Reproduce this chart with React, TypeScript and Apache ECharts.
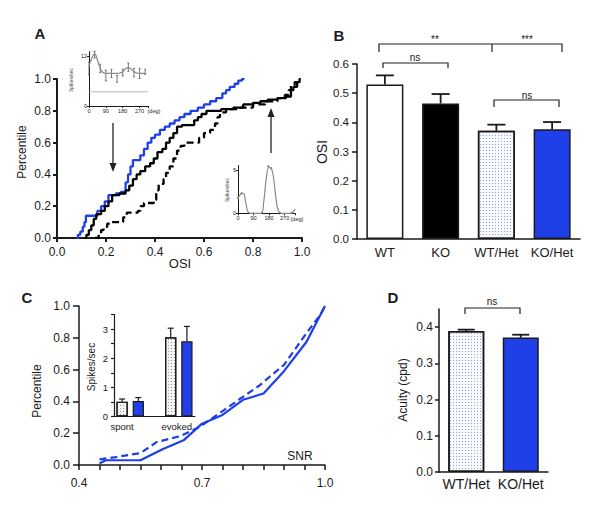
import React, { useEffect, useRef } from "react";
import * as echarts from "echarts";

const FONT = '"Liberation Sans", Arial, Helvetica, sans-serif';
const INK = "#1a1a1a";
const BLUE = "#1f3fe8";

// ---------- Panel A : cumulative distributions of OSI ----------
const aBlue: [number, number][] = [
  [0.08, 0], [0.085, 0.02], [0.095, 0.04], [0.105, 0.07], [0.112, 0.1], [0.118, 0.14],
  [0.165, 0.17], [0.18, 0.2], [0.195, 0.23], [0.21, 0.27], [0.24, 0.28], [0.26, 0.29],
  [0.28, 0.35], [0.29, 0.4], [0.3, 0.45], [0.31, 0.49], [0.34, 0.52], [0.355, 0.56],
  [0.37, 0.6], [0.385, 0.63], [0.4, 0.65], [0.42, 0.68], [0.44, 0.7], [0.46, 0.72],
  [0.48, 0.74], [0.5, 0.76], [0.52, 0.78], [0.545, 0.8], [0.575, 0.82], [0.6, 0.84],
  [0.625, 0.86], [0.65, 0.88], [0.675, 0.91], [0.69, 0.93], [0.705, 0.95], [0.725, 0.97],
  [0.74, 0.99], [0.755, 1.0], [0.765, 1.0],
];
const aBlack: [number, number][] = [
  [0.113, 0], [0.12, 0.02], [0.13, 0.05], [0.14, 0.08], [0.15, 0.12], [0.16, 0.15],
  [0.18, 0.17], [0.195, 0.2], [0.21, 0.23], [0.225, 0.27], [0.255, 0.28], [0.28, 0.3],
  [0.295, 0.33], [0.31, 0.37], [0.325, 0.4], [0.34, 0.42], [0.36, 0.45], [0.38, 0.47],
  [0.395, 0.5], [0.41, 0.54], [0.43, 0.56], [0.445, 0.6], [0.46, 0.63], [0.475, 0.66],
  [0.49, 0.7], [0.51, 0.71], [0.56, 0.74], [0.575, 0.76], [0.59, 0.78], [0.61, 0.8],
  [0.67, 0.81], [0.72, 0.82], [0.76, 0.84], [0.8, 0.85], [0.83, 0.86], [0.86, 0.87],
  [0.9, 0.88], [0.935, 0.89], [0.955, 0.93], [0.965, 0.95], [0.98, 0.98], [0.99, 1.0],
  [0.995, 1.0],
];
const aDashed: [number, number][] = [
  [0.155, 0], [0.17, 0.03], [0.18, 0.05], [0.19, 0.07], [0.205, 0.09], [0.22, 0.1],
  [0.27, 0.13], [0.285, 0.16], [0.33, 0.17], [0.34, 0.2], [0.355, 0.22], [0.395, 0.24],
  [0.405, 0.3], [0.415, 0.34], [0.435, 0.37], [0.445, 0.41], [0.46, 0.45], [0.475, 0.5],
  [0.49, 0.55], [0.505, 0.58], [0.52, 0.6], [0.58, 0.63], [0.6, 0.66], [0.625, 0.68],
  [0.645, 0.72], [0.655, 0.76], [0.665, 0.79], [0.69, 0.81], [0.75, 0.82], [0.8, 0.84],
  [0.85, 0.86], [0.9, 0.88], [0.93, 0.9], [0.945, 0.93], [0.955, 0.96], [0.97, 0.98],
  [0.985, 1.0], [0.99, 1.0],
];

// inset 1 (low OSI cell): tuning curve, spikes/sec vs direction
const in1Angles = [0, 30, 60, 90, 120, 150, 180, 210, 240, 270, 300];
const in1Mean = [9.0, 12.3, 9.0, 7.3, 7.8, 6.5, 8.0, 9.3, 8.0, 7.8, 8.2];
const in1Sd = [1.5, 0.8, 1.0, 1.3, 1.0, 0.8, 0.8, 1.0, 1.0, 1.2, 0.6];
const in1FitAngles = [0, 15, 30, 45, 60, 75, 90, 105, 120, 135, 150, 165, 180, 195, 210, 225, 240, 255, 270, 285, 300];
const in1Fit = [9.5, 11.5, 12.5, 11.0, 9.0, 8.0, 7.8, 7.8, 7.8, 7.8, 7.8, 7.9, 8.2, 8.9, 9.2, 8.8, 8.2, 7.9, 7.8, 7.8, 7.8];
const in1Spont = 3.4;

// inset 2 (high OSI cell)
const in2FitAngles = [0, 15, 30, 45, 60, 75, 90, 105, 120, 135, 150, 165, 180, 195, 210, 225, 240, 255, 270, 285, 300, 315, 330];
const in2Fit = [1.6, 2.2, 2.3, 1.2, 0.1, 0, 0, 0, 0, 0, 1.5, 4.2, 5.3, 5.1, 3.4, 1.0, 0.1, 0, 0, 0, 0, 0.1, 0.5];
const in2PtAngles = [0, 20, 90, 140, 175, 190, 240, 315];
const in2PtVals = [1.8, 2.3, 0, 0.1, 5.4, 5.2, 0, 0.05];

// ---------- Panel B : OSI bars ----------
const bCats = ["WT", "KO", "WT/Het", "KO/Het"];
const bMean = [0.53, 0.465, 0.371, 0.376];
const bErr = [0.031, 0.032, 0.021, 0.025];

// ---------- Panel C : SNR cumulative ----------
const cSolid: [number, number][] = [
  [0.45, 0.01], [0.465, 0.03], [0.55, 0.03], [0.605, 0.1], [0.655, 0.155], [0.7, 0.26],
  [0.75, 0.315], [0.8, 0.41], [0.85, 0.45], [0.9, 0.59], [0.955, 0.775], [1.0, 1.0],
];
const cDashed: [number, number][] = [
  [0.45, 0.035], [0.49, 0.05], [0.55, 0.075], [0.59, 0.145], [0.645, 0.18], [0.695, 0.24],
  [0.745, 0.33], [0.795, 0.42], [0.84, 0.5], [0.9, 0.63], [0.955, 0.83], [0.99, 0.95], [1.0, 1.0],
];
// inset: spikes/sec
const cGroups = ["spont", "evoked"];
const cWtHet = [0.51, 2.72];
const cWtHetErr = [0.09, 0.31];
const cKoHet = [0.53, 2.58];
const cKoHetErr = [0.12, 0.51];

// ---------- Panel D : acuity ----------
const dCats = ["WT/Het", "KO/Het"];
const dMean = [0.389, 0.371];
const dErr = [0.004, 0.008];

const dots = (color: string) => ({
  symbol: "rect",
  symbolSize: 1,
  dashArrayX: [1, 2],
  dashArrayY: [1, 2],
  color,
});

const errBar =
  (cap: number, lw: number, color: string, both = false) =>
  (_p: any, api: any) => {
    const x = api.value(0);
    const lo = api.coord([x, api.value(1)]);
    const hi = api.coord([x, api.value(2)]);
    const style = { stroke: color, lineWidth: lw };
    const children: any[] = [
      { type: "line", shape: { x1: lo[0], y1: lo[1], x2: hi[0], y2: hi[1] }, style },
      { type: "line", shape: { x1: hi[0] - cap, y1: hi[1], x2: hi[0] + cap, y2: hi[1] }, style },
    ];
    if (both)
      children.push({ type: "line", shape: { x1: lo[0] - cap, y1: lo[1], x2: lo[0] + cap, y2: lo[1] }, style });
    return { type: "group", children };
  };

const oneDec = (v: number) =>
  Math.abs(v * 10 - Math.round(v * 10)) > 1e-6 ? "" : v.toFixed(1);

const line = (w: number) => ({ lineStyle: { color: INK, width: w } });

function valueAxis(grid: number, min: number, max: number, o: any = {}) {
  return {
    type: "value",
    gridIndex: grid,
    min,
    max,
    interval: o.interval,
    axisLine: { show: true, onZero: false, ...line(o.lw ?? 1.5) },
    axisTick: {
      show: true,
      length: o.tick ?? 4,
      ...line(o.lw ?? 1.5),
      customValues: o.ticks,
    },
    axisLabel: {
      fontFamily: FONT,
      fontSize: o.fs ?? 12,
      color: INK,
      margin: o.margin ?? 6,
      formatter: o.fmt ?? oneDec,
      customValues: o.labels,
    },
    splitLine: { show: false },
  };
}

function catAxis(grid: number, data: string[], o: any = {}) {
  return {
    type: "category",
    gridIndex: grid,
    data,
    axisLine: { show: true, ...line(o.lw ?? 1.5) },
    axisTick: { show: false },
    axisLabel: {
      fontFamily: FONT,
      fontSize: o.fs ?? 13,
      color: INK,
      margin: o.margin ?? 7,
      interval: 0,
      formatter: o.fmt,
      rich: o.rich,
    },
    splitLine: { show: false },
  };
}

const txt = (x: number, y: number, text: string, fs: number, o: any = {}) => ({
  type: "text",
  x,
  y,
  rotation: o.rot ?? 0,
  z: 100,
  style: {
    text,
    fill: o.color ?? INK,
    fontSize: fs,
    fontWeight: o.bold ? "bold" : "normal",
    fontFamily: FONT,
    align: o.align ?? "center",
    verticalAlign: "middle",
  },
});

const pl = (pts: number[][], w = 1.2) => ({
  type: "polyline",
  z: 100,
  shape: { points: pts },
  style: { stroke: "#222", lineWidth: w, fill: "none" },
});

export default function App() {
  const ref = useRef<HTMLDivElement>(null);

  useEffect(() => {
    if (!ref.current) return;
    const chart = echarts.init(ref.current, undefined, { renderer: "svg" });
    const gridBase = { containLabel: false, outerBoundsMode: "none", show: false };

    const cSlots = [cGroups[0], "s2", "gap", cGroups[1], "e2"];
    const grayBar = {
      color: "#f4f4f4",
      borderColor: INK,
      borderWidth: 1.2,
      decal: dots("#9a9a9a"),
    };
    const blueBar = { color: BLUE, borderColor: INK, borderWidth: 1.2 };
    const degFmt = (v: number) => ([0, 90, 180, 270].includes(v) ? String(v) : "");

    const option: any = {
      animation: false,
      backgroundColor: "#ffffff",
      grid: [
        { ...gridBase, left: 57, top: 79, width: 245, height: 159 },
        { ...gridBase, left: 89, top: 51.7, width: 59, height: 54.3 },
        { ...gridBase, left: 238, top: 165.5, width: 57, height: 47.8 },
        { ...gridBase, left: 357, top: 64, width: 223, height: 175 },
        { ...gridBase, left: 79, top: 306, width: 246, height: 159 },
        { ...gridBase, left: 114, top: 314.5, width: 81, height: 102 },
        { ...gridBase, left: 439, top: 309, width: 109, height: 163 },
      ],
      xAxis: [
        valueAxis(0, 0, 1, { interval: 0.2, lw: 2, margin: 8 }),
        valueAxis(1, 0, 315, { interval: 90, lw: 1, tick: 2, fs: 5.5, margin: 2, fmt: degFmt }),
        valueAxis(2, 0, 330, { interval: 90, lw: 1, tick: 2, fs: 5.5, margin: 2, fmt: degFmt }),
        catAxis(3, bCats, { fs: 13, margin: 7 }),
        valueAxis(4, 0.4, 1.0, {
          interval: 0.05, lw: 1.5, tick: 5, margin: 12,
          fmt: (v: number) => {
            const r = Math.round(v * 100);
            return r === 40 || r === 70 || r === 100 ? v.toFixed(1) : "";
          },
        }),
        catAxis(5, cSlots, {
          fs: 9.5, margin: 5, lw: 1.2,
          fmt: (v: string) => (v === "spont" ? "spont" : v === "evoked" ? "{e|evoked}" : ""),
          rich: { e: { fontFamily: FONT, fontSize: 9.5, color: INK, padding: [0, 0, 0, 12] } },
        }),
        catAxis(6, dCats, { fs: 14, margin: 5 }),
      ],
      yAxis: [
        valueAxis(0, 0, 1, { interval: 0.2, lw: 2, margin: 6 }),
        valueAxis(1, 0, 13, {
          lw: 1, tick: 2, fs: 5.5, margin: 2, ticks: [0, 12], labels: [0, 12],
          fmt: (v: number) => (v === 0 || v === 12 ? String(v) : ""),
        }),
        valueAxis(2, 0, 5.5, {
          lw: 1, tick: 2, fs: 5.5, margin: 2, ticks: [0, 5], labels: [0, 5],
          fmt: (v: number) => (v === 0 || v === 5 ? String(v) : ""),
        }),
        valueAxis(3, 0, 0.6, { interval: 0.1, lw: 1.5, tick: 5, fs: 11.5, margin: 8 }),
        valueAxis(4, 0, 1, { interval: 0.2, lw: 1.5, tick: 6, margin: 9 }),
        valueAxis(5, 0, 3.5, {
          interval: 0.5, lw: 1.2, tick: 3, fs: 9.5, margin: 6,
          fmt: (v: number) => (Math.abs(v - Math.round(v)) < 1e-6 ? String(Math.round(v)) : ""),
        }),
        valueAxis(6, 0, 0.45, {
          lw: 1.5, tick: 4, margin: 6,
          ticks: [0, 0.1, 0.2, 0.3, 0.4], labels: [0, 0.1, 0.2, 0.3, 0.4],
        }),
      ],
      series: [
        // Panel A main
        {
          type: "line", xAxisIndex: 0, yAxisIndex: 0, data: aBlue, step: "end",
          showSymbol: false, lineStyle: { color: BLUE, width: 2.3 }, z: 3,
        },
        {
          type: "line", xAxisIndex: 0, yAxisIndex: 0, data: aDashed, step: "end",
          showSymbol: false, lineStyle: { color: "#000", width: 2.3, type: [7, 4] }, z: 3,
        },
        {
          type: "line", xAxisIndex: 0, yAxisIndex: 0, data: aBlack, step: "end",
          showSymbol: false, lineStyle: { color: "#000", width: 2.3 }, z: 4,
        },
        // inset 1
        {
          type: "line", xAxisIndex: 1, yAxisIndex: 1,
          data: [[0, in1Spont], [315, in1Spont]],
          showSymbol: false, lineStyle: { color: "#aaa", width: 0.8 },
        },
        {
          type: "line", xAxisIndex: 1, yAxisIndex: 1, smooth: true,
          data: in1FitAngles.map((a, i) => [a, in1Fit[i]]),
          showSymbol: false, lineStyle: { color: "#8a8a8a", width: 1.2 },
        },
        {
          type: "custom", xAxisIndex: 1, yAxisIndex: 1,
          renderItem: errBar(1, 0.8, "#555", true),
          encode: { x: 0, y: [1, 2] },
          data: in1Angles.map((a, i) => [a, in1Mean[i] - in1Sd[i], in1Mean[i] + in1Sd[i]]),
        },
        // inset 2
        {
          type: "line", xAxisIndex: 2, yAxisIndex: 2, smooth: true,
          data: in2FitAngles.map((a, i) => [a, in2Fit[i]]),
          showSymbol: false, lineStyle: { color: "#8a8a8a", width: 1.2 },
        },
        {
          type: "scatter", xAxisIndex: 2, yAxisIndex: 2, symbolSize: 2,
          itemStyle: { color: "#555" },
          data: in2PtAngles.map((a, i) => [a, in2PtVals[i]]),
        },
        // Panel B
        {
          type: "bar", xAxisIndex: 3, yAxisIndex: 3, barWidth: 37,
          data: bMean.map((v, i) => ({
            value: v,
            itemStyle:
              i === 0
                ? { color: "#ffffff", borderColor: INK, borderWidth: 1.5 }
                : i === 1
                ? { color: "#000000", borderColor: INK, borderWidth: 1.5 }
                : i === 2
                ? { color: "#f8f9fd", borderColor: INK, borderWidth: 1.5, decal: dots("#93a2d6") }
                : { color: BLUE, borderColor: INK, borderWidth: 1.5 },
          })),
        },
        {
          type: "custom", xAxisIndex: 3, yAxisIndex: 3, z: 5,
          renderItem: errBar(9, 1.8, INK),
          encode: { x: 0, y: [1, 2] },
          data: bMean.map((v, i) => [i, v, v + bErr[i]]),
        },
        // Panel C main
        {
          type: "line", xAxisIndex: 4, yAxisIndex: 4, data: cDashed,
          showSymbol: false, lineStyle: { color: BLUE, width: 2.2, type: [7, 4] },
        },
        {
          type: "line", xAxisIndex: 4, yAxisIndex: 4, data: cSolid,
          showSymbol: false, lineStyle: { color: BLUE, width: 2.2 },
        },
        // Panel C inset
        {
          type: "bar", xAxisIndex: 5, yAxisIndex: 5, barWidth: 11.3,
          data: [
            { value: cWtHet[0], itemStyle: grayBar },
            { value: cKoHet[0], itemStyle: blueBar },
            { value: 0, itemStyle: { color: "#000", borderColor: INK, borderWidth: 1.2 } },
            { value: cWtHet[1], itemStyle: grayBar },
            { value: cKoHet[1], itemStyle: blueBar },
          ],
        },
        {
          type: "custom", xAxisIndex: 5, yAxisIndex: 5, z: 5,
          renderItem: errBar(3, 1.2, INK),
          encode: { x: 0, y: [1, 2] },
          data: [
            [0, cWtHet[0], cWtHet[0] + cWtHetErr[0]],
            [1, cKoHet[0], cKoHet[0] + cKoHetErr[0]],
            [3, cWtHet[1], cWtHet[1] + cWtHetErr[1]],
            [4, cKoHet[1], cKoHet[1] + cKoHetErr[1]],
          ],
        },
        // Panel D
        {
          type: "bar", xAxisIndex: 6, yAxisIndex: 6, barWidth: 36,
          data: dMean.map((v, i) => ({
            value: v,
            itemStyle:
              i === 0
                ? { color: "#f8f9fd", borderColor: INK, borderWidth: 1.5, decal: dots("#93a2d6") }
                : { color: BLUE, borderColor: INK, borderWidth: 1.5 },
          })),
        },
        {
          type: "custom", xAxisIndex: 6, yAxisIndex: 6, z: 5,
          renderItem: errBar(8.5, 1.8, INK),
          encode: { x: 0, y: [1, 2] },
          data: dMean.map((v, i) => [i, v, v + dErr[i]]),
        },
      ],
      graphic: [
        // panel letters
        txt(40, 33, "A", 15, { bold: true }),
        txt(339, 35, "B", 15, { bold: true }),
        txt(27, 297, "C", 15, { bold: true }),
        txt(393, 297, "D", 15, { bold: true }),
        // axis titles
        txt(22, 152, "Percentile", 12, { rot: Math.PI / 2 }),
        txt(180, 263, "OSI", 13),
        txt(322, 152, "OSI", 14, { rot: Math.PI / 2 }),
        txt(37, 391, "Percentile", 12, { rot: Math.PI / 2 }),
        txt(300, 456, "SNR", 12),
        txt(91, 367, "Spikes/sec", 10, { rot: Math.PI / 2 }),
        txt(403, 390, "Acuity (cpd)", 12, { rot: Math.PI / 2 }),
        txt(71, 80, "Spikes/sec", 5, { rot: Math.PI / 2, color: "#444" }),
        txt(227, 190, "Spikes/sec", 5, { rot: Math.PI / 2, color: "#444" }),
        txt(147.5, 111, "(deg)", 5.5, { align: "left" }),
        txt(290.5, 218.5, "(deg)", 5.5, { align: "left" }),
        // arrows in A
        pl([[113, 123], [113, 165]], 1.3),
        { type: "polygon", z: 100, shape: { points: [[109.5, 163], [116.5, 163], [113, 172]] }, style: { fill: "#222" } },
        pl([[271, 153], [271, 115]], 1.3),
        { type: "polygon", z: 100, shape: { points: [[267.5, 117], [274.5, 117], [271, 108]] }, style: { fill: "#222" } },
        // significance brackets B
        pl([[379, 52], [379, 44], [562, 44], [562, 52]]),
        pl([[492, 44], [492, 52]]),
        txt(435, 39, "**", 10, { color: "#222" }),
        txt(527, 39, "***", 10, { color: "#222" }),
        pl([[383, 68], [383, 63], [448, 63], [448, 68]]),
        txt(415, 57, "ns", 10),
        pl([[494, 107], [494, 100], [559, 100], [559, 107]]),
        txt(527, 95, "ns", 10),
        // bracket D
        pl([[465, 314], [465, 308], [520, 308], [520, 314]]),
        txt(492, 301, "ns", 10),
      ],
    };
    chart.setOption(option);
    return () => chart.dispose();
  }, []);

  return (
    <div
      ref={ref}
      style={{ position: "fixed", left: 0, top: 0, width: 600, height: 514, background: "#fff" }}
    />
  );
}
